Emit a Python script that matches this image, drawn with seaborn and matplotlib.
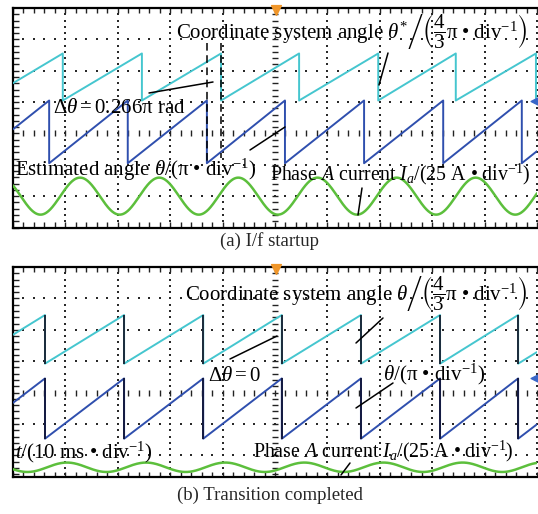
import numpy as np
import pandas as pd
import seaborn as sns
import matplotlib.pyplot as plt

sns.set_theme(style="white")
plt.rcParams['font.family'] = ['Liberation Serif', 'DejaVu Serif']
plt.rcParams['mathtext.fontset'] = 'custom'
plt.rcParams['mathtext.rm'] = 'Liberation Serif'
plt.rcParams['mathtext.it'] = 'Liberation Serif:italic'
plt.rcParams['mathtext.bf'] = 'Liberation Serif:bold'
plt.rcParams['mathtext.fallback'] = 'stix'

# ---------------- data (time in ms, amplitude in divisions) ----------------
# panel (a) I/f startup
cyan_a_resets = [9.5, 24.6, 39.7, 54.6, 69.7, 84.5, 99.8]
cyan_a_levels = [4.05, 5.55]          # low, high
blue_a_resets = [6.9, 21.9, 37.0, 51.9, 67.0, 82.1, 97.1]
blue_a_levels = [2.05, 4.05]
green_a_peaks = [12.8, 27.9, 43.0, 58.1, 73.2, 88.3]
green_a_center, green_a_amp = 1.0, 0.59

# panel (b) transition completed
cyan_b_resets = [6.1, 21.2, 36.3, 51.3, 66.4, 81.5, 96.4]
cyan_b_levels = [3.92, 5.47]
blue_b_resets = [6.1, 21.2, 36.3, 51.3, 66.4, 81.5, 96.4]
blue_b_levels = [1.53, 3.45]
green_b_peaks = [10.3, 25.4, 40.5, 55.6, 70.7, 85.8]
green_b_center, green_b_amp = 0.62, 0.15

x_ticks = list(range(0, 101, 10))
CYAN, BLUE, GREEN = '#45c6cf', '#2f4fae', '#5cbf3c'

W, H = 538, 514
fig = plt.figure(figsize=(W / 100, H / 100), dpi=100)

def fx(x):
    return x / W

def fy(y):
    return 1 - y / H

axA = fig.add_axes([13 / W, 1 - 227.5 / H, (537 - 13) / W, (227.5 - 8) / H])
axB = fig.add_axes([13 / W, 1 - 477 / H, (537 - 13) / W, (477 - 267) / H])


def saw(resets, levels, tmax=100.0):
    lo, hi = levels
    period = np.mean(np.diff(resets))
    slope = (hi - lo) / period
    xs, ys = [0.0], [hi - slope * resets[0]]
    for r in resets:
        xs += [r, r]
        ys += [hi, lo]
    xs.append(tmax)
    ys.append(lo + slope * (tmax - resets[-1]))
    return pd.DataFrame({'t': xs, 'v': ys})


def sine(peaks, center, amp):
    period = np.mean(np.diff(peaks))
    t = np.linspace(0, 100, 800)
    return pd.DataFrame({'t': t, 'v': center + amp * np.cos(2 * np.pi * (t - peaks[0]) / period)})


def scope(ax, ylo, yhi):
    ax.set_xlim(0, 100)
    ax.set_ylim(ylo, yhi)
    ax.set_xticks([])
    ax.set_yticks([])
    for s in ['left', 'top', 'bottom']:
        ax.spines[s].set_color('black')
        ax.spines[s].set_linewidth(1.6)
    ax.spines['right'].set_visible(False)
    # dotted grid made of dots at 1/5 division
    ydots = np.arange(np.ceil(ylo * 5) / 5, yhi, 0.2)
    xdots = np.arange(0, 100.01, 2)
    for gx in x_ticks[1:]:
        if gx == 50:
            continue
        ax.scatter(np.full(len(ydots), gx), ydots, s=2.0, marker='s', color='#2a2a2a', lw=0, zorder=1)
    for gy in range(1, 7):
        if gy == 3:
            continue
        ax.scatter(xdots, np.full(len(xdots), gy), s=2.0, marker='s', color='#2a2a2a', lw=0, zorder=1)
    # centre axes with ticks
    ax.plot(np.full(len(ydots), 50), ydots, ls='none', marker='_', ms=5, mew=1.0, color='#222222', zorder=1)
    ax.plot(xdots, np.full(len(xdots), 3), ls='none', marker='|', ms=5, mew=1.0, color='#222222', zorder=1)
    # edge ticks
    ax.plot(np.full(len(ydots), 0.5), ydots, ls='none', marker='_', ms=5, mew=1.0, color='#222222', zorder=1, clip_on=False)
    ax.plot(xdots, np.full(len(xdots), yhi - 0.07), ls='none', marker='|', ms=4, mew=1.0, color='#222222', zorder=1)
    ax.plot(xdots, np.full(len(xdots), ylo + 0.07), ls='none', marker='|', ms=4, mew=1.0, color='#222222', zorder=1)


scope(axA, 0, 7)
scope(axB, 0.31, 7)

# ---- panel a traces
sns.lineplot(data=saw(cyan_a_resets, cyan_a_levels), x='t', y='v', estimator=None, sort=False,
             color=CYAN, lw=1.4, ax=axA, zorder=3)
sns.lineplot(data=saw(blue_a_resets, blue_a_levels), x='t', y='v', estimator=None, sort=False,
             color=BLUE, lw=1.4, ax=axA, zorder=3)
sns.lineplot(data=sine(green_a_peaks, green_a_center, green_a_amp), x='t', y='v', estimator=None,
             sort=False, color=GREEN, lw=1.8, ax=axA, zorder=3)

# ---- panel b traces
sns.lineplot(data=saw(cyan_b_resets, cyan_b_levels), x='t', y='v', estimator=None, sort=False,
             color=CYAN, lw=1.4, ax=axB, zorder=3)
sns.lineplot(data=saw(blue_b_resets, blue_b_levels), x='t', y='v', estimator=None, sort=False,
             color=BLUE, lw=1.4, ax=axB, zorder=3)
axB.vlines(cyan_b_resets, cyan_b_levels[0], cyan_b_levels[1], color='#1b2a3a', lw=1.4, zorder=4)
axB.vlines(blue_b_resets, blue_b_levels[0], blue_b_levels[1], color='#141a40', lw=1.4, zorder=4)
sns.lineplot(data=sine(green_b_peaks, green_b_center, green_b_amp), x='t', y='v', estimator=None,
             sort=False, color=GREEN, lw=1.8, ax=axB, zorder=3)

for ax in (axA, axB):
    ax.set_xlabel('')
    ax.set_ylabel('')
    ax.scatter([50.2], [ax.get_ylim()[1] - 0.05], marker='v', s=50, color='#f0962a', zorder=6, clip_on=False)

axA.scatter([99.6], [4.05], marker='<', s=40, color='#3a66c8', zorder=6, clip_on=False)
axB.scatter([99.6], [3.45], marker='<', s=40, color='#3a66c8', zorder=6, clip_on=False)

# ---- annotations
FS = 15
kw = dict(fontsize=FS, color='black', va='baseline', ha='left', zorder=10)
kw2 = dict(kw, fontsize=14.3)
fig.text(fx(176), fy(39), r'Coordinate system angle $\theta^{*}\left/\left(\dfrac{4}{3}\mathrm{\pi}\ •\ \mathrm{div}^{-1}\right)\right.$', **kw)
fig.text(fx(53), fy(113), r'$\Delta\theta = 0.266\mathrm{\pi}$ rad', **kw)
fig.text(fx(15), fy(176), r'Estimated angle $\theta$/(π • div$^{-1}$)', **kw)
fig.text(fx(270), fy(180), r'Phase $A$ current $I_a$/(25 A • div$^{-1}$)', **kw2)

fig.text(fx(185), fy(301), r'Coordinate system angle $\theta\left/\left(\dfrac{4}{3}\mathrm{\pi}\ •\ \mathrm{div}^{-1}\right)\right.$', **kw)
fig.text(fx(208), fy(381), r'$\Delta\theta = 0$', **kw)
fig.text(fx(383), fy(380), r'$\theta$/(π • div$^{-1}$)', **kw)
fig.text(fx(15), fy(458), r'$t$/(10 ms • div$^{-1}$)', **kw)
fig.text(fx(253), fy(457), r'Phase $A$ current $I_a$/(25 A • div$^{-1}$)', **kw2)

fig.text(fx(270), fy(246), '(a) I/f startup', fontsize=13.5, ha='center', va='baseline')
fig.text(fx(270), fy(500), '(b) Transition completed', fontsize=13.5, ha='center', va='baseline')

# leader lines (figure pixel coords)
def leader(x0, y0, x1, y1, ls='-'):
    fig.add_artist(plt.Line2D([fx(x0), fx(x1)], [fy(y0), fy(y1)], color='black', lw=1.1, ls=ls, zorder=9))

leader(149, 93, 213, 82)
leader(388, 53, 379, 85)
leader(250, 150, 285, 127)
leader(362, 188, 358, 215)
leader(207, 43, 207, 162, ls=(0, (5, 3)))
leader(221, 43, 221, 158, ls=(0, (5, 3)))

leader(230, 359, 277, 336)
leader(356, 343, 383, 318)
leader(356, 408, 393, 383)
leader(341, 475, 350, 463)

fig.savefig('out.png', dpi=100)
